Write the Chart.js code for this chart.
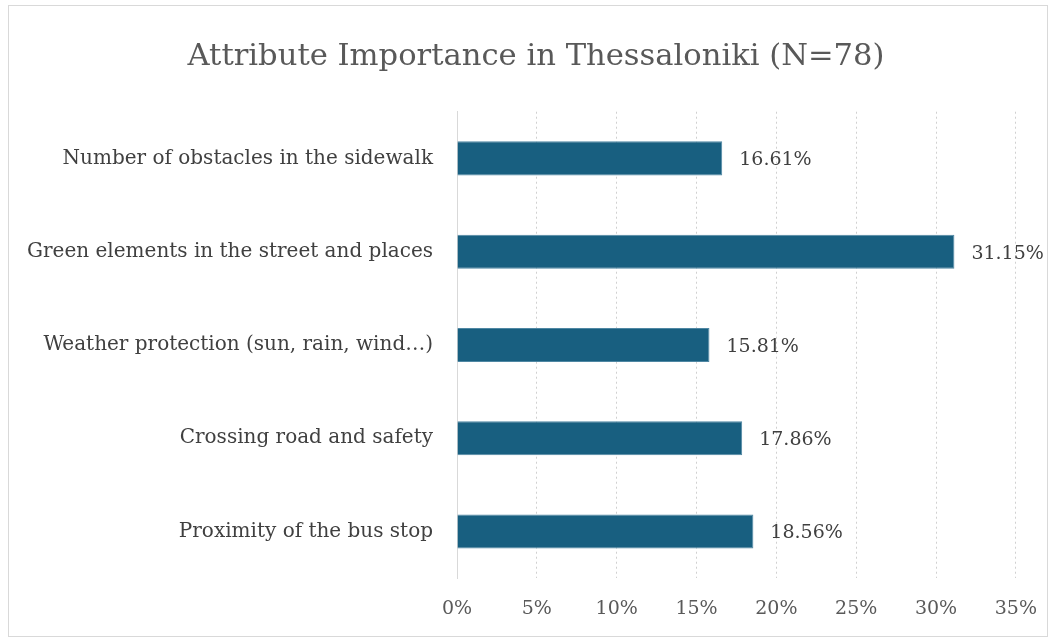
<!DOCTYPE html>
<html>
<head>
<meta charset="utf-8">
<script src="https://cdn.jsdelivr.net/npm/chart.js@4"></script>
<style>
  html, body { margin: 0; padding: 0; background: #fff; }
  .frame { position: absolute; left: 8px; top: 5px; width: 1040px; height: 632px; border: 1px solid #d9d9d9; box-sizing: border-box; }
  .wrap { position: absolute; left: 0; top: 0; width: 1056px; height: 642px; }
</style>
</head>
<body>
<div class="frame"></div>
<div class="wrap"><canvas id="myChart" width="1056" height="642"></canvas></div>
<script>
const categories = [
    'Number of obstacles in the sidewalk',
    'Green elements in the street and places',
    'Weather protection (sun, rain, wind…)',
    'Crossing road and safety',
    'Proximity of the bus stop'
]
const importance = [16.61, 31.15, 15.81, 17.86, 18.56]
const tickValues = [0, 5, 10, 15, 20, 25, 30, 35]

const serif = "'DejaVu Serif', 'Liberation Serif', serif"

// labels at bar ends
const barLabels = {
    id: 'barLabels',
    afterDatasetsDraw(chart) {
        let ctx = chart.ctx
        let meta = chart.getDatasetMeta(0)
        ctx.save()
        ctx.font = '19px ' + serif
        ctx.fillStyle = '#404040'
        ctx.textBaseline = 'middle'
        ctx.textAlign = 'left'
        meta.data.forEach((bar, i) => {
            ctx.fillText(importance[i].toFixed(2) + '%', bar.x + 17, bar.y + 2)
        })
        ctx.restore()
    }
}

// nudge the title a bit to the right, like the original
const titleShift = {
    id: 'titleShift',
    afterLayout(chart) {
        if (chart.titleBlock) chart.titleBlock.left = 56
    }
}

var ctx = document.getElementById('myChart').getContext('2d');
let myChart = new Chart(ctx, {
    type: 'bar',
    data: {
        labels: categories,
        datasets: [{
            data: importance,
            backgroundColor: '#185f80',
            borderColor: '#4f87a3',
            borderWidth: 1,
            barPercentage: 0.73,
            categoryPercentage: 0.5
        }]
    },
    options: {
        indexAxis: 'y',
        responsive: false,
        animation: false,
        layout: { padding: { left: 10, right: 40, top: 39, bottom: 3 } },
        plugins: {
            legend: { display: false },
            tooltip: { enabled: false },
            title: {
                display: true,
                text: 'Attribute Importance in Thessaloniki (N=78)',
                color: '#595959',
                font: { family: serif, size: 30.6, weight: 'normal' },
                padding: { top: 0, bottom: 36 }
            }
        },
        scales: {
            x: {
                min: 0,
                max: 35,
                afterBuildTicks(scale) {
                    scale.ticks = tickValues.map(v => ({ value: v }))
                },
                ticks: {
                    color: '#595959',
                    font: { family: serif, size: 19 },
                    padding: 19,
                    callback: v => v + '%'
                },
                grid: { color: '#d0d0d0', drawTicks: false },
                border: { display: false, dash: [2, 3] }
            },
            y: {
                afterFit(scale) { scale.width = 447 },
                ticks: {
                    color: '#404040',
                    font: { family: serif, size: 20 },
                    padding: 24
                },
                grid: { display: false, drawTicks: false },
                border: { color: '#d9d9d9', width: 1 }
            }
        }
    },
    plugins: [barLabels, titleShift]
});
</script>
</body>
</html>
